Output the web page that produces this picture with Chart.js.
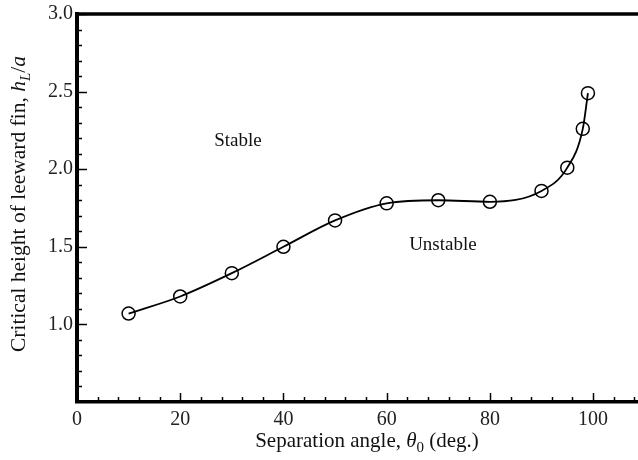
<!DOCTYPE html>
<html><head><meta charset="utf-8">
<script src="https://cdn.jsdelivr.net/npm/chart.js@4"></script>
<style>html,body{margin:0;padding:0;background:#fff;}#wrap{width:638px;height:460px;}</style>
</head><body><div id="wrap"><canvas id="c" width="638" height="460"></canvas></div>
<script>
const angles = [10, 20, 30, 40, 50, 60, 70, 80, 90, 95, 98, 99];
const heights = [1.07, 1.18, 1.33, 1.50, 1.67, 1.78, 1.80, 1.79, 1.86, 2.01, 2.26, 2.49];
const xTicks = [0, 20, 40, 60, 80, 100];
const yTicks = [1.0, 1.5, 2.0, 2.5, 3.0];
const regionLabels = ["Stable", "Unstable"];
const regionX = [31.2, 70.9];
const regionY = [2.18, 1.51];

const FONT = '"Liberation Serif", "Times New Roman", serif';

const decor = {
  id: 'decor',
  afterDraw(chart) {
    const ctx = chart.ctx, xs = chart.scales.x, ys = chart.scales.y, a = chart.chartArea;
    ctx.save();
    ctx.strokeStyle = '#000';
    // top frame
    ctx.lineWidth = 3.5;
    ctx.beginPath(); ctx.moveTo(a.left - 2, a.top); ctx.lineTo(a.right + 2, a.top); ctx.stroke();
    // x ticks (inward)
    ctx.lineWidth = 1.5;
    for (let v = 0; v <= xs.max; v += 4) {
      const px = Math.round(xs.getPixelForValue(v)) + 0.5;
      const len = (v % 20 === 0) ? 9 : 5;
      ctx.beginPath(); ctx.moveTo(px, a.bottom); ctx.lineTo(px, a.bottom - len); ctx.stroke();
    }
    for (let i = 6; i <= 30; i++) {
      const v = i / 10;
      const py = Math.round(ys.getPixelForValue(v)) + 0.5;
      const len = (i % 5 === 0) ? 10 : 5;
      ctx.beginPath(); ctx.moveTo(a.left, py); ctx.lineTo(a.left + len, py); ctx.stroke();
    }
    // region labels
    ctx.fillStyle = '#111';
    ctx.font = '19px ' + FONT;
    ctx.textAlign = 'center'; ctx.textBaseline = 'middle';
    regionLabels.forEach((t, i) => ctx.fillText(t, xs.getPixelForValue(regionX[i]), ys.getPixelForValue(regionY[i])));
    function drawRich(segs, cx, cy) {
      let w = 0;
      segs.forEach(s => { ctx.font = s.f; w += ctx.measureText(s.t).width; });
      let x = cx - w / 2;
      ctx.textAlign = 'left'; ctx.textBaseline = 'alphabetic';
      segs.forEach(s => { ctx.font = s.f; ctx.fillText(s.t, x, cy + (s.dy || 0)); x += ctx.measureText(s.t).width; });
    }
    const reg = '21px ' + FONT, it = 'italic 21px ' + FONT, sub = '15px ' + FONT;
    drawRich([{t: 'Separation angle, ', f: reg}, {t: 'θ', f: it}, {t: '0', f: sub, dy: 5}, {t: ' (deg.)', f: reg}], 367, 447);
    const reg2 = '21.5px ' + FONT, it2 = 'italic 21.5px ' + FONT, itsub2 = 'italic 15px ' + FONT;
    ctx.save();
    ctx.translate(25, 204);
    ctx.rotate(-Math.PI / 2);
    drawRich([{t: 'Critical height of leeward fin, ', f: reg2}, {t: 'h', f: it2}, {t: 'L', f: itsub2, dy: 5}, {t: '/', f: reg2}, {t: 'a', f: it2}], 0, 0);
    ctx.restore();
    ctx.restore();
  }
};

new Chart(document.getElementById('c'), {
  type: 'line',
  data: {
    datasets: [{
      data: angles.map((x, i) => ({x: x, y: heights[i]})),
      borderColor: '#000', borderWidth: 1.8,
      pointStyle: 'circle', pointRadius: 6.5, pointBorderWidth: 1.5,
      pointBackgroundColor: 'rgba(0,0,0,0)', pointBorderColor: '#000',
      cubicInterpolationMode: 'monotone', fill: false
    }]
  },
  options: {
    responsive: false, animation: false, devicePixelRatio: 1,
    layout: {autoPadding: false, padding: {top: 14, right: 0, left: 0, bottom: 0}},
    plugins: {legend: {display: false}, tooltip: {enabled: false}},
    scales: {
      x: {
        type: 'linear', min: 0, max: 108.7,
        grid: {display: false, drawTicks: false},
        border: {display: true, color: '#000', width: 3.5},
        afterBuildTicks: s => { s.ticks = xTicks.map(v => ({value: v})); },
        afterFit: s => { s.height = 58; s.paddingLeft = 0; s.paddingRight = 0; },
        ticks: {color: '#222', font: {family: FONT, size: 20}, padding: 6, maxRotation: 0, autoSkip: false, callback: v => String(v)}
      },
      y: {
        type: 'linear', min: 0.5, max: 3.0,
        grid: {display: false, drawTicks: false},
        border: {display: true, color: '#000', width: 4},
        afterBuildTicks: s => { s.ticks = yTicks.map(v => ({value: v})); },
        afterFit: s => { s.width = 77; s.paddingTop = 0; s.paddingBottom = 0; },
        ticks: {color: '#222', font: {family: FONT, size: 20}, padding: 4, autoSkip: false, callback: v => v.toFixed(1)}
      }
    }
  },
  plugins: [decor]
});
</script></body></html>
